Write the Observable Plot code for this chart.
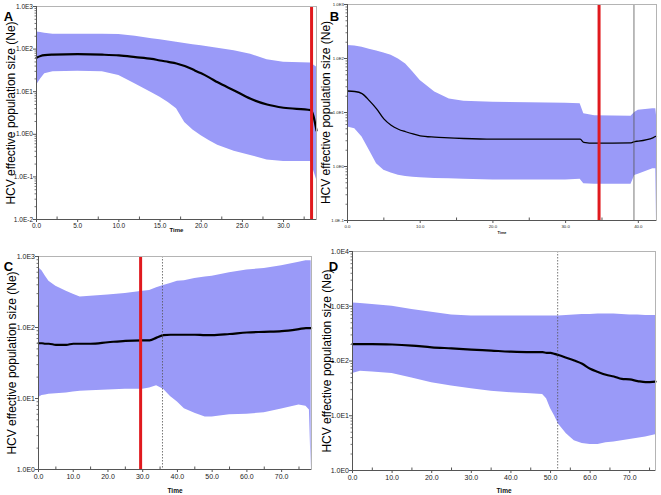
<!DOCTYPE html>
<html><head><meta charset="utf-8">
<script src="https://cdn.jsdelivr.net/npm/d3@7"></script>
<script src="https://cdn.jsdelivr.net/npm/@observablehq/plot@0.6"></script>
<style>
body{margin:0;background:#fff;}
#wrap{position:relative;width:661px;height:495px;overflow:hidden;background:#fff;}
#wrap > div{position:absolute;}
</style></head><body>
<div id="wrap"><div id="pA"></div><div id="pB"></div><div id="pC"></div><div id="pD"></div></div>
<script>
// ---- data (Ne values) ----
const timeA   = [0, 0.5, 1, 2, 5, 8, 10, 12, 14, 15, 16, 17, 18, 19, 20, 21, 22, 24, 26, 28, 30, 33.3, 34];
const upperA  = [251, 245, 234, 224, 224, 224, 219, 200, 174, 166, 155, 145, 135, 126, 120, 112, 105, 91, 76, 56, 49, 47, 38];
const lowerA  = [14.1, 20, 26.3, 29.5, 30.2, 29.5, 24, 15.1, 9.5, 7.4, 5.6, 4.0, 1.9, 1.26, 0.93, 0.71, 0.55, 0.40, 0.32, 0.25, 0.23, 0.23, 0.087];
const medianA = [63, 69, 72, 74, 76, 74, 71, 65, 59, 54, 50, 46, 40, 33, 27, 21.4, 16.6, 10.7, 6.8, 5.0, 4.2, 3.7, 1.23];

const timeB   = [0, 1, 2, 3, 4, 5, 6, 7, 8, 9, 10, 12, 14, 16, 20, 25, 30, 32, 32.5, 34, 39, 39.5, 40, 42, 42.4, 42.5];
const upperB  = [174, 170, 162, 148, 138, 126, 115, 98, 79, 56, 39, 24, 17.8, 16.2, 15.5, 15.1, 14.8, 14.5, 9.5, 8.7, 8.5, 10, 11, 11.7, 11.7, 8.9];
const lowerB  = [5.4, 5.0, 3.5, 2.0, 1.12, 0.85, 0.76, 0.69, 0.65, 0.63, 0.62, 0.60, 0.59, 0.58, 0.56, 0.56, 0.56, 0.58, 0.48, 0.47, 0.47, 0.68, 0.72, 0.91, 0.91, 0.1];
const medianB = [25, 24.5, 22.4, 16.6, 11.7, 7.6, 5.8, 4.9, 4.4, 4.0, 3.7, 3.5, 3.4, 3.3, 3.2, 3.2, 3.2, 3.2, 2.8, 2.7, 2.75, 2.9, 2.95, 3.4, 3.6, 3.6];

const timeC   = [0, 0.3, 1, 2, 3, 5, 8, 10, 12, 15, 20, 25, 30, 32, 34, 36, 38, 40, 42, 45, 48, 50, 55, 60, 65, 70, 75, 77, 78, 78.5];
const upperC  = [676, 676, 631, 525, 447, 380, 324, 295, 269, 275, 288, 302, 324, 331, 363, 389, 417, 447, 457, 490, 513, 525, 589, 646, 676, 741, 832, 871, 871, 871];
const lowerC  = [8.7, 10.5, 11, 11.2, 11.5, 11.7, 12, 12.3, 12.6, 12.9, 13.2, 13.5, 13.5, 14.1, 15.1, 13.5, 10.7, 8.9, 7.2, 6.2, 5.5, 5.5, 5.9, 6.0, 6.3, 7.1, 8.1, 7.8, 6.9, 1.0];
const medianC = [60, 60, 60, 59, 59, 57, 57, 59, 59, 59, 62, 65, 66, 66, 72, 78, 79, 79, 79, 79, 78, 78, 81, 85, 87, 89, 95, 98, 98, 98];

const timeD   = [0, 2, 5, 10, 15, 20, 25, 30, 35, 40, 45, 48, 49, 50, 51, 52, 54, 56, 58, 60, 62, 64, 66, 68, 70, 72, 74, 76.5];
const upperD  = [1148, 1122, 1072, 1000, 871, 776, 692, 661, 661, 661, 661, 661, 661, 661, 661, 661, 676, 692, 708, 708, 724, 724, 724, 708, 692, 692, 676, 676];
const lowerD  = [59, 65, 63, 59, 49, 40, 35, 31, 28, 26.3, 25.1, 24.5, 20.4, 13.5, 10, 7.1, 4.7, 3.5, 3.1, 3.0, 3.0, 3.2, 3.3, 3.5, 3.7, 3.9, 4.1, 4.5];
const medianD = [204, 204, 204, 200, 191, 178, 170, 162, 155, 148, 145, 145, 141, 141, 135, 129, 115, 102, 89, 72, 63, 56, 52, 47, 46, 43, 41, 42];

// vertical markers
const redA = 33.4, redB = 34.6, redC = 29.4;
const dotB = 39.4, dotC = 35.7, dotD = 51.8;

// tick labels
const xTicksA = [0, 5, 10, 15, 20, 25, 30];
const xTicksB = [0, 10, 20, 30, 40];
const xTicksCD = [0, 10, 20, 30, 40, 50, 60, 70];
const yTicksA = [0.01, 0.1, 1, 10, 100, 1000];
const yTicksB = [0.1, 1, 10, 100, 1000];
const yTicksC = [1, 10, 100, 1000];
const yTicksD = [1, 10, 100, 1000, 10000];
const letters = ["A", "B", "C", "D"];
const yTitle = "HCV effective population size (Ne)";
const xTitle = "Time";

// ---- drawing ----
const BAND = "#9a9af8", RED = "#e0191e";
const FONT = "'Liberation Sans Narrow','Liberation Sans',Arial,sans-serif";
const fmtE = d => "1.0E" + Math.round(Math.log10(d));
const fmtX = d => d.toFixed(1);
const midTicks = t => t.map(v => v + (t[1] - t[0]) / 2);
const logMinor = dom => {
  const out = [];
  for (let e = Math.round(Math.log10(dom[0])); e < Math.round(Math.log10(dom[1])); e++)
    for (let m = 2; m <= 9; m++) out.push(m * Math.pow(10, e));
  return out;
};

function panel(c) {
  const rows = c.time.map((t, i) => ({t, hi: c.upper[i], lo: c.lower[i], med: c.median[i]}));
  const innerH = c.height - c.mt - c.mb;
  const xMinor = midTicks(c.xTicks).filter(v => v < c.xDomain[1]);
  return Plot.plot({
    width: c.width, height: c.height,
    marginLeft: c.ml, marginRight: c.mr, marginTop: c.mt, marginBottom: c.mb,
    style: {fontFamily: FONT, fontStretch: "condensed", background: "transparent", overflow: "visible"},
    x: {domain: c.xDomain, label: null},
    y: {type: "log", domain: c.yDomain, label: null},
    marks: [
      Plot.areaY(rows, {x: "t", y1: "lo", y2: "hi", fill: BAND}),
      Plot.lineY(rows, {x: "t", y: "med", stroke: "#000", strokeWidth: c.medW, curve: "monotone-x"}),
      c.dot != null ? Plot.ruleX([c.dot], {stroke: "#555", strokeWidth: 0.8, strokeDasharray: c.dash}) : null,
      c.red != null ? Plot.ruleX([c.red], {stroke: RED, strokeWidth: 3}) : null,
      Plot.frame({stroke: "#b4b4b4"}),
      Plot.ruleX([c.xDomain[0]], {stroke: "#555"}),
      Plot.ruleY([c.yDomain[0]], {stroke: "#555"}),
      Plot.axisX({ticks: c.xTicks, tickFormat: fmtX, tickSize: 3, tickPadding: c.xPad, fontSize: c.fs, label: null, stroke: "#555", fill: "#222"}),
      Plot.tickX(xMinor, {x: d => d, insetTop: innerH - 2.5, stroke: "#555"}),
      Plot.axisY({ticks: c.yTicks, tickFormat: fmtE, tickSize: 3, tickPadding: 0.5, fontSize: c.fs, label: null, stroke: "#555", fill: "#222"}),
      Plot.axisY({ticks: logMinor(c.yDomain), tickFormat: () => "", tickSize: 1.5, label: null, stroke: "#777"}),
      Plot.text([c.letter], {frameAnchor: "top-left", dx: c.lx, dy: c.ly, fontSize: 13, fontWeight: "bold",
        textAnchor: "middle", lineAnchor: "middle", fontFamily: "'Liberation Sans',Arial,sans-serif"}),
      Plot.text([yTitle], {frameAnchor: "left", rotate: -90, dx: c.tx, fontSize: 12,
        textAnchor: "middle", lineAnchor: "middle", fontFamily: "'Liberation Sans',Arial,sans-serif"}),
      Plot.text([xTitle], {frameAnchor: "bottom", dy: c.timeDy, fontSize: c.fs - 0.5, fontWeight: "bold",
        textAnchor: "middle", lineAnchor: "middle", fill: "#111"})
    ]
  });
}

function place(id, left, top, node) {
  const el = document.getElementById(id);
  el.style.left = left + "px"; el.style.top = top + "px";
  el.appendChild(node);
}

place("pA", 0, 0, panel({
  time: timeA, upper: upperA, lower: lowerA, median: medianA,
  xDomain: [0, 34.0], yDomain: [0.01, 1000], xTicks: xTicksA, yTicks: yTicksA,
  width: 318, height: 245, ml: 36, mr: 2, mt: 6, mb: 26,
  red: redA, medW: 2.2, fs: 6.5, xPad: 1, letter: letters[0], lx: -28, ly: 10, tx: -25, timeDy: 11
}));
place("pB", 318, 0, panel({
  time: timeB, upper: upperB, lower: lowerB, median: medianB,
  xDomain: [0, 42.5], yDomain: [0.1, 1000], xTicks: xTicksB, yTicks: yTicksB,
  width: 343, height: 245, ml: 29, mr: 5, mt: 4, mb: 25,
  red: redB, dot: dotB, dash: null, medW: 1.3, fs: 4.3, xPad: 1, letter: letters[1], lx: -13, ly: 12, tx: -21, timeDy: 12
}));
place("pC", 0, 245, panel({
  time: timeC, upper: upperC, lower: lowerC, median: medianC,
  xDomain: [0, 78.6], yDomain: [1, 1000], xTicks: xTicksCD, yTicks: yTicksC,
  width: 318, height: 250, ml: 38, mr: 7, mt: 11, mb: 26,
  red: redC, dot: dotC, dash: "1.5,1.5", medW: 2.2, fs: 7, xPad: 1.5, letter: letters[2], lx: -30, ly: 10, tx: -26, timeDy: 21
}));
place("pD", 318, 245, panel({
  time: timeD, upper: upperD, lower: lowerD, median: medianD,
  xDomain: [0, 76.5], yDomain: [1, 10000], xTicks: xTicksCD, yTicks: yTicksD,
  width: 343, height: 250, ml: 34, mr: 6, mt: 6, mb: 25,
  dot: dotD, dash: "1.5,1.5", medW: 2.2, fs: 7, xPad: 1.5, letter: letters[3], lx: -19, ly: 15, tx: -25, timeDy: 20
}));
</script>
</body></html>
